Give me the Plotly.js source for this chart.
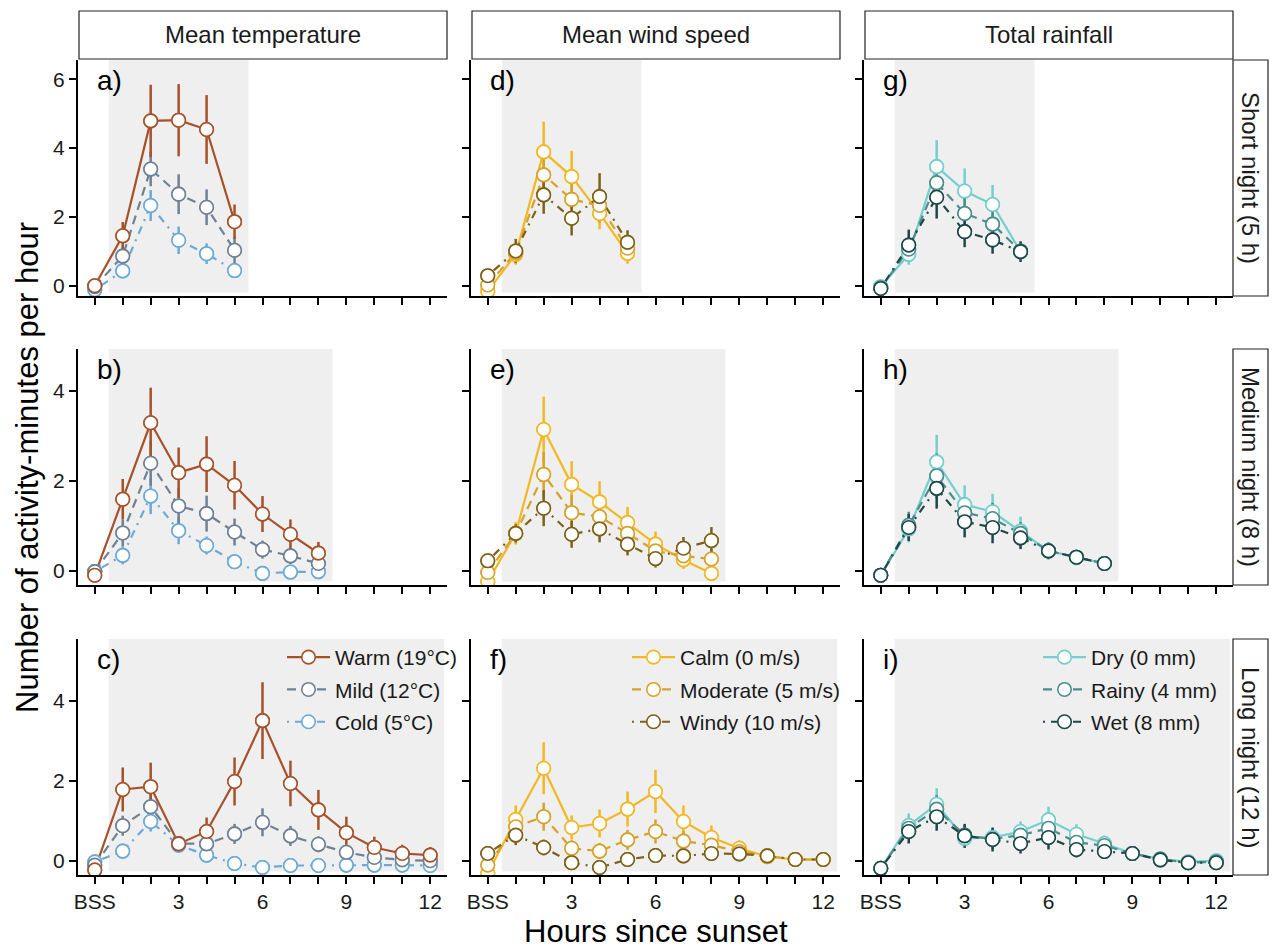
<!DOCTYPE html>
<html><head><meta charset="utf-8">
<script src="https://cdn.plot.ly/plotly-3.0.1.min.js"></script>
<style>html,body{margin:0;padding:0;background:#fff}#chart{width:1279px;height:949px}</style>
</head><body><div id="chart"></div>
<script>
const W = 1279, H = 949;

// ---------- categories / ticks ----------
const hoursShort  = [0, 1, 2, 3, 4, 5];
const hoursMedium = [0, 1, 2, 3, 4, 5, 6, 7, 8];
const hoursLong   = [0, 1, 2, 3, 4, 5, 6, 7, 8, 9, 10, 11, 12];
const nightLengths = [5, 8, 12];
const tickHours  = [0, 1, 2, 3, 4, 5, 6, 7, 8, 9, 10, 11, 12];
const tickLabels = ['BSS', '', '', '3', '', '', '6', '', '', '9', '', '', '12'];
const columnTitles = ['Mean temperature', 'Mean wind speed', 'Total rainfall'];
const rowTitles = ['Short night (5 h)', 'Medium night (8 h)', 'Long night (12 h)'];
const panelLetters = ['a)', 'b)', 'c)', 'd)', 'e)', 'f)', 'g)', 'h)', 'i)'];
const tempNames = ['Warm (19°C)', 'Mild (12°C)', 'Cold (5°C)'];
const windNames = ['Calm (0 m/s)', 'Moderate (5 m/s)', 'Windy (10 m/s)'];
const rainNames = ['Dry (0 mm)', 'Rainy (4 mm)', 'Wet (8 mm)'];
const yTicksShort = [0, 2, 4, 6];
const yTicksMedium = [0, 2, 4];
const yTicksLong = [0, 2, 4];

// ---------- Mean temperature ----------
const warmS = [0.00, 1.45, 4.79, 4.81, 4.54, 1.86];
const warmSErr = [0.08, 0.40, 1.05, 1.05, 1.00, 0.50];
const mildS = [-0.03, 0.86, 3.39, 2.66, 2.28, 1.03];
const mildSErr = [0.08, 0.30, 0.50, 0.58, 0.52, 0.40];
const coldS = [-0.12, 0.43, 2.33, 1.32, 0.93, 0.44];
const coldSErr = [0.06, 0.20, 0.45, 0.40, 0.30, 0.18];

const warmM = [-0.10, 1.59, 3.29, 2.18, 2.37, 1.90, 1.26, 0.81, 0.39];
const warmMErr = [0.05, 0.45, 0.78, 0.56, 0.62, 0.54, 0.40, 0.33, 0.25];
const mildM = [-0.02, 0.84, 2.39, 1.44, 1.27, 0.86, 0.47, 0.33, 0.16];
const mildMErr = [0.05, 0.30, 0.50, 0.40, 0.40, 0.30, 0.20, 0.18, 0.15];
const coldM = [-0.02, 0.34, 1.66, 0.89, 0.56, 0.20, -0.06, -0.03, -0.02];
const coldMErr = [0.04, 0.20, 0.40, 0.30, 0.20, 0.15, 0.08, 0.08, 0.08];

const warmL = [-0.23, 1.78, 1.85, 0.42, 0.73, 1.98, 3.50, 1.93, 1.27, 0.70, 0.33, 0.18, 0.14];
const warmLErr = [0.08, 0.55, 0.60, 0.15, 0.35, 0.60, 0.96, 0.57, 0.50, 0.40, 0.27, 0.22, 0.20];
const mildL = [-0.11, 0.875, 1.35, 0.43, 0.42, 0.67, 0.96, 0.62, 0.41, 0.21, 0.08, 0.02, 0.00];
const mildLErr = [0.05, 0.25, 0.35, 0.15, 0.18, 0.25, 0.35, 0.25, 0.20, 0.15, 0.10, 0.08, 0.08];
const coldL = [-0.03, 0.24, 0.98, 0.39, 0.14, -0.07, -0.17, -0.12, -0.12, -0.11, -0.11, -0.11, -0.12];
const coldLErr = [0.04, 0.15, 0.25, 0.12, 0.10, 0.06, 0.05, 0.05, 0.05, 0.05, 0.05, 0.05, 0.05];

// ---------- Mean wind speed ----------
const calmS = [-0.16, 0.91, 3.89, 3.17, 2.10, 0.94];
const calmSErr = [0.10, 0.30, 0.88, 0.75, 0.46, 0.30];
const modS = [0.02, 0.96, 3.22, 2.51, 2.33, 1.09];
const modSErr = [0.10, 0.25, 0.60, 0.55, 0.50, 0.30];
const windS = [0.29, 1.01, 2.64, 1.96, 2.59, 1.26];
const windSErr = [0.12, 0.35, 0.55, 0.50, 0.68, 0.35];

const calmM = [-0.24, 0.83, 3.14, 1.92, 1.53, 1.07, 0.59, 0.24, -0.06];
const calmMErr = [0.08, 0.25, 0.73, 0.52, 0.46, 0.35, 0.28, 0.20, 0.15];
const modM = [-0.04, 0.83, 2.14, 1.29, 1.20, 0.83, 0.44, 0.33, 0.26];
const modMErr = [0.08, 0.20, 0.50, 0.40, 0.35, 0.30, 0.20, 0.18, 0.20];
const windM = [0.22, 0.83, 1.39, 0.81, 0.93, 0.59, 0.27, 0.50, 0.67];
const windMErr = [0.12, 0.20, 0.40, 0.30, 0.30, 0.25, 0.20, 0.25, 0.30];

const calmL = [-0.32, 1.03, 2.31, 0.83, 0.93, 1.29, 1.73, 0.98, 0.58, 0.31, 0.10, 0.03, 0.03];
const calmLErr = [0.10, 0.35, 0.65, 0.30, 0.35, 0.44, 0.54, 0.40, 0.30, 0.20, 0.10, 0.08, 0.08];
const modL = [-0.11, 0.85, 1.10, 0.31, 0.24, 0.52, 0.73, 0.49, 0.39, 0.23, 0.12, 0.03, 0.03];
const modLErr = [0.08, 0.25, 0.35, 0.20, 0.20, 0.25, 0.30, 0.25, 0.20, 0.15, 0.10, 0.08, 0.08];
const windL = [0.18, 0.64, 0.33, -0.05, -0.17, 0.03, 0.13, 0.12, 0.18, 0.17, 0.12, 0.03, 0.03];
const windLErr = [0.15, 0.25, 0.20, 0.12, 0.12, 0.10, 0.12, 0.12, 0.14, 0.12, 0.10, 0.08, 0.08];

// ---------- Total rainfall ----------
const dryS = [-0.03, 0.91, 3.46, 2.75, 2.36, 0.99];
const drySErr = [0.08, 0.30, 0.77, 0.66, 0.57, 0.25];
const rainS = [-0.06, 1.06, 2.99, 2.10, 1.79, 1.01];
const rainSErr = [0.08, 0.35, 0.60, 0.50, 0.45, 0.25];
const wetS = [-0.08, 1.18, 2.57, 1.57, 1.33, 0.99];
const wetSErr = [0.08, 0.45, 0.62, 0.45, 0.40, 0.30];

const dryM = [-0.10, 0.93, 2.42, 1.47, 1.31, 0.88, 0.44, 0.30, 0.16];
const dryMErr = [0.05, 0.30, 0.60, 0.43, 0.40, 0.32, 0.20, 0.18, 0.15];
const rainM = [-0.10, 1.01, 2.11, 1.29, 1.16, 0.83, 0.44, 0.30, 0.16];
const rainMErr = [0.05, 0.30, 0.50, 0.35, 0.35, 0.25, 0.18, 0.16, 0.15];
const wetM = [-0.10, 0.96, 1.83, 1.09, 0.96, 0.73, 0.44, 0.30, 0.16];
const wetMErr = [0.05, 0.30, 0.45, 0.35, 0.35, 0.25, 0.18, 0.16, 0.15];

const dryL = [-0.19, 0.88, 1.41, 0.56, 0.58, 0.73, 1.02, 0.66, 0.43, 0.18, 0.04, -0.03, 0.00];
const dryLErr = [0.06, 0.30, 0.40, 0.20, 0.20, 0.25, 0.33, 0.25, 0.20, 0.15, 0.10, 0.10, 0.10];
const rainL = [-0.19, 0.81, 1.29, 0.64, 0.54, 0.64, 0.81, 0.46, 0.38, 0.18, 0.04, -0.05, -0.03];
const rainLErr = [0.06, 0.25, 0.35, 0.25, 0.25, 0.25, 0.30, 0.20, 0.18, 0.14, 0.10, 0.10, 0.10];
const wetL = [-0.19, 0.73, 1.10, 0.62, 0.53, 0.43, 0.58, 0.28, 0.23, 0.18, 0.02, -0.05, -0.05];
const wetLErr = [0.06, 0.30, 0.35, 0.30, 0.30, 0.25, 0.30, 0.20, 0.18, 0.14, 0.10, 0.10, 0.10];

// ---------- assemble (structure only) ----------
const hoursByRow = [hoursShort, hoursMedium, hoursLong];
const yTicksByRow = [yTicksShort, yTicksMedium, yTicksLong];
const namesByCol = [tempNames, windNames, rainNames];
const series = [
  [ [[warmS, warmSErr], [mildS, mildSErr], [coldS, coldSErr]],
    [[warmM, warmMErr], [mildM, mildMErr], [coldM, coldMErr]],
    [[warmL, warmLErr], [mildL, mildLErr], [coldL, coldLErr]] ],
  [ [[calmS, calmSErr], [modS, modSErr], [windS, windSErr]],
    [[calmM, calmMErr], [modM, modMErr], [windM, windMErr]],
    [[calmL, calmLErr], [modL, modLErr], [windL, windLErr]] ],
  [ [[dryS, drySErr], [rainS, rainSErr], [wetS, wetSErr]],
    [[dryM, dryMErr], [rainM, rainMErr], [wetM, wetMErr]],
    [[dryL, dryLErr], [rainL, rainLErr], [wetL, wetLErr]] ]
];

// ---------- styles / layout geometry ----------
const colColors = [
  ['#A5522B', '#6F8194', '#6BAAD6'],
  ['#F2B824', '#D6A22C', '#7D6119'],
  ['#74CFCD', '#4A8E8B', '#1E4747']
];
const drawOrder = [[2, 1, 0], [0, 1, 2], [0, 1, 2]];
const dashes = ['solid', '9px,6px', '2px,6px,8px,6px'];
const colPx = [[78, 447], [471, 840], [864, 1233]];
const rowPx = [[60, 296], [349, 585], [639, 875]];
const yRanges = [[-0.30, 6.56], [-0.318, 4.93], [-0.357, 5.54]];
const xRange = [-0.6, 12.6];
const FONT = 'Liberation Sans, Arial, sans-serif';
const TXT = '#1a1a1a';
const legendKeys = ['legend', 'legend2', 'legend3'];
const legendLeft = [282, 627, 1038];

function axId(r, c) { return r * 3 + c + 1; }
function xName(k) { return k === 1 ? 'x' : 'x' + k; }
function yName(k) { return k === 1 ? 'y' : 'y' + k; }

const traces = [];
// pass 1: lines (also legend entries)
for (let c = 0; c < 3; c++) for (let r = 0; r < 3; r++) {
  const k = axId(r, c);
  for (let g = 0; g < 3; g++) {
    const col = colColors[c][g];
    traces.push({
      type: 'scatter', mode: 'lines+markers', x: hoursByRow[r], y: series[c][r][g][0],
      xaxis: xName(k), yaxis: yName(k), name: namesByCol[c][g],
      line: {color: col, width: 2.2, dash: dashes[g]},
      marker: {symbol: 'circle', size: 13.5, color: '#ffffff', line: {color: col, width: 1.6}},
      showlegend: r === 2, legend: legendKeys[c], legendgroup: 'g' + c + '_' + g,
      hoverinfo: 'skip'
    });
  }
}
// pass 2: error bars
for (let c = 0; c < 3; c++) for (let r = 0; r < 3; r++) {
  const k = axId(r, c);
  for (const g of drawOrder[c]) {
    const col = colColors[c][g];
    traces.push({
      type: 'scatter', mode: 'markers', x: hoursByRow[r], y: series[c][r][g][0],
      xaxis: xName(k), yaxis: yName(k), showlegend: false,
      marker: {size: 2, opacity: 0, color: col},
      error_y: {type: 'data', array: series[c][r][g][1], symmetric: true, width: 0, thickness: 2.5, color: col},
      hoverinfo: 'skip'
    });
  }
}
// pass 3: points
for (let c = 0; c < 3; c++) for (let r = 0; r < 3; r++) {
  const k = axId(r, c);
  for (const g of drawOrder[c]) {
    const col = colColors[c][g];
    traces.push({
      type: 'scatter', mode: 'markers', x: hoursByRow[r], y: series[c][r][g][0],
      xaxis: xName(k), yaxis: yName(k), showlegend: false,
      marker: {symbol: 'circle', size: 13.5, color: '#ffffff', line: {color: col, width: 1.6}},
      hovertemplate: '%{y:.2f}<extra></extra>'
    });
  }
}

const layout = {
  width: W, height: H, margin: {l: 0, r: 0, t: 0, b: 0},
  paper_bgcolor: '#ffffff', plot_bgcolor: 'rgba(0,0,0,0)',
  font: {family: FONT, color: TXT, size: 21},
  showlegend: true, shapes: [], annotations: []
};

for (let c = 0; c < 3; c++) for (let r = 0; r < 3; r++) {
  const k = axId(r, c);
  const xa = {
    domain: [colPx[c][0] / W, colPx[c][1] / W], range: xRange, anchor: yName(k),
    showline: true, linecolor: '#000', linewidth: 2, mirror: false,
    ticks: 'outside', ticklen: 7, tickwidth: 1.6, tickcolor: '#000',
    tickmode: 'array', tickvals: tickHours, ticktext: tickLabels,
    showticklabels: r === 2, showgrid: false, zeroline: false, fixedrange: true,
    tickfont: {family: FONT, size: 21, color: TXT}
  };
  const ya = {
    domain: [1 - rowPx[r][1] / H, 1 - rowPx[r][0] / H], range: yRanges[r], anchor: xName(k),
    showline: true, linecolor: '#000', linewidth: 2,
    ticks: 'outside', ticklen: 7, tickwidth: 1.6, tickcolor: '#000',
    tickmode: 'array', tickvals: yTicksByRow[r],
    showticklabels: c === 0, showgrid: false, zeroline: false, fixedrange: true,
    tickfont: {family: FONT, size: 21, color: TXT}
  };
  layout['xaxis' + (k === 1 ? '' : k)] = xa;
  layout['yaxis' + (k === 1 ? '' : k)] = ya;

  // night shading
  layout.shapes.push({
    type: 'rect', layer: 'below', xref: xName(k), yref: yName(k) + ' domain',
    x0: 0.5, x1: nightLengths[r] + 0.5, y0: 0.015, y1: 1,
    fillcolor: '#EFEFEF', line: {width: 0}
  });
  // panel letter
  layout.annotations.push({
    text: panelLetters[c * 3 + r], xref: 'paper', yref: 'paper',
    x: (colPx[c][0] + 17) / W, y: 1 - (rowPx[r][0] + 3) / H,
    xanchor: 'left', yanchor: 'top', showarrow: false,
    font: {family: FONT, size: 28, color: '#000'}
  });
}

// strips
for (let c = 0; c < 3; c++) {
  layout.shapes.push({
    type: 'rect', xref: 'paper', yref: 'paper',
    x0: (colPx[c][0] + 1) / W, x1: colPx[c][1] / W, y0: 1 - 59 / H, y1: 1 - 11 / H,
    fillcolor: '#fff', line: {color: '#222', width: 1.2}
  });
  layout.annotations.push({
    text: columnTitles[c], xref: 'paper', yref: 'paper',
    x: (colPx[c][0] + colPx[c][1]) / 2 / W, y: 1 - 35 / H,
    xanchor: 'center', yanchor: 'middle', showarrow: false,
    font: {family: FONT, size: 24, color: TXT}
  });
}
for (let r = 0; r < 3; r++) {
  layout.shapes.push({
    type: 'rect', xref: 'paper', yref: 'paper',
    x0: 1233 / W, x1: 1268 / W, y0: 1 - rowPx[r][1] / H, y1: 1 - rowPx[r][0] / H,
    fillcolor: '#fff', line: {color: '#222', width: 1.2}
  });
  layout.annotations.push({
    text: rowTitles[r], xref: 'paper', yref: 'paper',
    x: 1251 / W, y: 1 - (rowPx[r][0] + rowPx[r][1]) / 2 / H,
    xanchor: 'center', yanchor: 'middle', showarrow: false, textangle: 90,
    font: {family: FONT, size: 24, color: TXT}
  });
}

// axis titles
layout.annotations.push({
  text: 'Hours since sunset', xref: 'paper', yref: 'paper',
  x: 655.5 / W, y: 1 - 931 / H, xanchor: 'center', yanchor: 'middle', showarrow: false,
  font: {family: FONT, size: 31, color: '#000'}
});
layout.annotations.push({
  text: 'Number of activity-minutes per hour', xref: 'paper', yref: 'paper',
  x: 27 / W, y: 1 - 468 / H, xanchor: 'center', yanchor: 'middle', showarrow: false, textangle: -90,
  font: {family: FONT, size: 31, color: '#000'}
});

// legends
for (let c = 0; c < 3; c++) {
  layout[legendKeys[c]] = {
    x: legendLeft[c] / W, y: 1 - 637 / H, xanchor: 'left', yanchor: 'top',
    bgcolor: 'rgba(0,0,0,0)', borderwidth: 0, traceorder: 'grouped', tracegroupgap: 2,
    itemwidth: 43, font: {family: FONT, size: 21, color: TXT}
  };
}

Plotly.newPlot('chart', traces, layout, {displayModeBar: false});
</script></body></html>
